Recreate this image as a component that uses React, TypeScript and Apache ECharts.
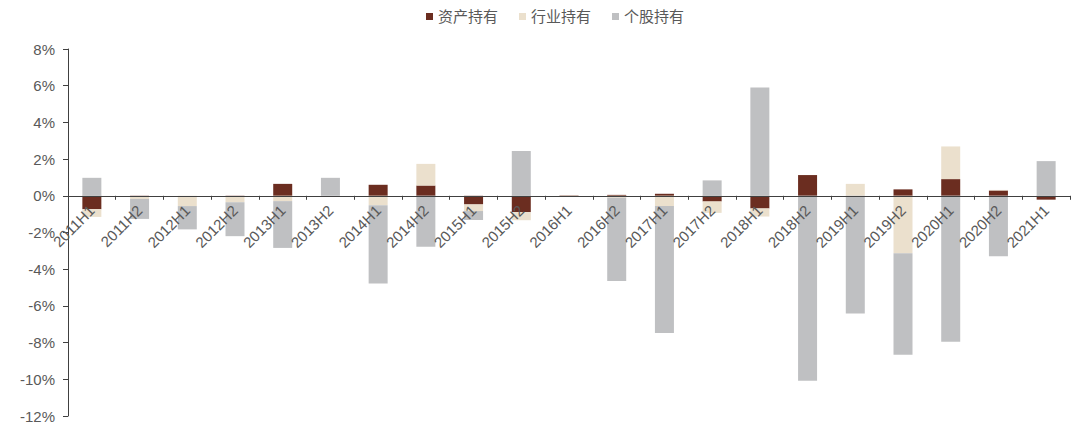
import { useEffect, useRef } from "react";
import * as echarts from "echarts";

// half-year periods
const periods = [
  "2011H1", "2011H2", "2012H1", "2012H2", "2013H1", "2013H2", "2014H1",
  "2014H2", "2015H1", "2015H2", "2016H1", "2016H2", "2017H1", "2017H2",
  "2018H1", "2018H2", "2019H1", "2019H2", "2020H1", "2020H2", "2021H1",
];

// values in %
const assetHolding = [
  -0.73, -0.06, 0, -0.02, 0.65, 0, 0.6, 0.56, -0.47, -0.89, 0.02,
  0.05, 0.11, -0.31, -0.69, 1.13, 0, 0.35, 0.91, 0.29, -0.21,
];
const industryHolding = [
  -0.42, -0.11, -0.56, -0.33, -0.29, 0, -0.51, 1.18, -0.36, -0.44, -0.02,
  -0.11, -0.56, -0.62, -0.44, 0, 0.65, -3.13, 1.78, 0.03, 0,
];
const stockHolding = [
  0.98, -1.09, -1.27, -1.85, -2.55, 0.98, -4.27, -2.78, -0.49, 2.44, 0,
  -4.53, -6.92, 0.84, 5.9, -10.08, -6.41, -5.53, -7.95, -3.29, 1.89,
];

const yMin = -12;
const yMax = 8;
const yStep = 2;

const colors = ["#6B2D20", "#EBE0CD", "#BFC0C2"];
const labelColor = "#595959";
const axisColor = "#404040";
const fontFamily = '"Liberation Sans", Arial, "Noto Sans CJK SC", sans-serif';

const W = 1080;
const H = 436;
const gridTop = 49;
const gridBottom = 20;

export default function App() {
  const chartRef = useRef<HTMLDivElement>(null);

  useEffect(() => {
    if (!chartRef.current) return;
    const chart = echarts.init(chartRef.current, null, { renderer: "svg" });

    // move the category axis (line, ticks, labels) up to the 0% line
    const plotH = H - gridTop - gridBottom;
    const zeroOffset = -(plotH * (0 - yMin)) / (yMax - yMin);

    const bar = (name: string, data: number[], color: string) => ({
      name,
      type: "bar",
      stack: "total",
      data,
      barWidth: 19,
      itemStyle: { color },
    });

    chart.setOption({
      animation: false,
      backgroundColor: "#ffffff",
      textStyle: { fontFamily },
      legend: {
        top: 4,
        left: 421,
        itemWidth: 7,
        itemHeight: 7,
        itemGap: 21,
        icon: "rect",
        textStyle: { color: labelColor, fontSize: 15, fontFamily },
        data: ["资产持有", "行业持有", "个股持有"],
      },
      grid: {
        left: 68,
        right: 10,
        top: gridTop,
        bottom: gridBottom,
        containLabel: false,
        outerBoundsMode: "none",
      },
      xAxis: {
        type: "category",
        data: periods,
        position: "bottom",
        offset: zeroOffset,
        z: 10,
        axisLine: { onZero: false, lineStyle: { color: axisColor, width: 1 } },
        axisTick: { show: true, length: 4, inside: false, lineStyle: { color: axisColor } },
        axisLabel: {
          rotate: 45,
          interval: 0,
          color: labelColor,
          fontSize: 15,
          fontFamily,
          margin: 12,
        },
        splitLine: { show: false },
      },
      yAxis: {
        type: "value",
        min: yMin,
        max: yMax,
        interval: yStep,
        z: 10,
        axisLine: { show: true, lineStyle: { color: axisColor, width: 1 } },
        axisTick: { show: true, length: 5, lineStyle: { color: axisColor } },
        axisLabel: {
          color: labelColor,
          fontSize: 15,
          fontFamily,
          margin: 13,
          formatter: (v: number) => `${v}%`,
        },
        splitLine: { show: false },
      },
      series: [
        bar("资产持有", assetHolding, colors[0]),
        bar("行业持有", industryHolding, colors[1]),
        bar("个股持有", stockHolding, colors[2]),
      ],
    });

    return () => {
      chart.dispose();
    };
  }, []);

  return (
    <div
      ref={chartRef}
      style={{ position: "fixed", left: 0, top: 0, width: W, height: H }}
    />
  );
}
